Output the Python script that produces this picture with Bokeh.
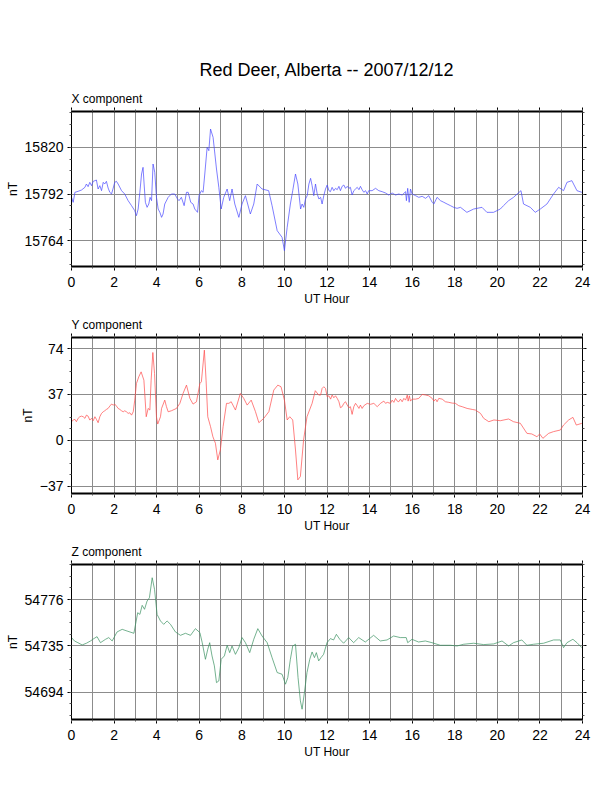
from bokeh.plotting import figure
from bokeh.models import LinearAxis, FixedTicker, Range1d, Title, CustomLabelingPolicy
from bokeh.layouts import column
from bokeh.embed import file_html
from bokeh.resources import INLINE

# ---------------- data ----------------
x_hours = [0.00, 0.08, 0.16, 0.31, 0.47, 0.63, 0.70, 0.78, 0.86, 0.94, 1.02, 1.10, 1.17, 1.25, 1.33, 1.41,
           1.49, 1.56, 1.64, 1.72, 1.80, 1.88, 1.96, 2.03, 2.11, 2.19, 2.35, 2.50, 2.66, 2.82, 2.97, 3.05,
           3.13, 3.21, 3.29, 3.36, 3.41, 3.47, 3.55, 3.63, 3.69, 3.76, 3.83, 3.91, 3.99, 4.07, 4.15, 4.23,
           4.30, 4.38, 4.54, 4.69, 4.85, 4.98, 5.05, 5.16, 5.29, 5.40, 5.48, 5.60, 5.71, 5.79, 5.92, 5.99,
           6.10, 6.18, 6.26,
           6.37, 6.45, 6.53, 6.65, 6.81, 6.92, 7.03, 7.15, 7.31, 7.43, 7.54, 7.67, 7.86, 8.01,
           8.17, 8.40, 8.56, 8.72, 8.95, 9.26, 9.42, 9.66, 9.89, 10.00, 10.13, 10.28, 10.39, 10.52, 10.63,
           10.76, 10.83, 10.91, 10.99, 11.07, 11.15, 11.23, 11.30, 11.38, 11.46, 11.54, 11.62, 11.70, 11.77,
           11.85, 11.93, 12.01, 12.09, 12.16, 12.24, 12.32, 12.40, 12.48, 12.56, 12.63, 12.71, 12.79, 12.87,
           12.95, 13.03, 13.10, 13.18, 13.26, 13.34, 13.42, 13.50, 13.57, 13.65, 13.73, 13.81, 13.89, 13.96,
           14.12, 14.28, 14.43, 14.59, 14.75, 14.90, 15.06, 15.22, 15.37, 15.53, 15.69, 15.73, 15.79, 15.86,
           15.92, 16.00, 16.16, 16.31, 16.47, 16.63, 16.78, 16.94, 17.02, 17.17, 17.33, 17.49, 17.64, 17.80,
           17.95, 18.11, 18.27,
           18.57, 18.89, 19.28, 19.51, 19.82, 20.14, 20.29, 20.53, 20.76, 21.11, 21.23, 21.55,
           21.78, 22.02, 22.33, 22.64, 22.88, 23.11, 23.27, 23.50, 23.74, 23.97]
x_values = [15790.0, 15787.0, 15793.0, 15793.6, 15794.4, 15796.0, 15798.0, 15796.4, 15799.0, 15797.0,
            15799.6, 15800.0, 15800.4, 15795.0, 15797.0, 15794.0, 15799.0, 15798.0, 15799.6, 15795.6,
            15793.0, 15792.0, 15795.6, 15799.0, 15799.6, 15798.0, 15794.0, 15792.0, 15788.0, 15785.0,
            15782.0, 15779.0, 15783.0, 15793.0, 15804.0, 15808.0, 15798.0, 15787.0, 15784.0, 15786.0,
            15790.0, 15788.0, 15810.0, 15805.0, 15790.0, 15783.0, 15781.0, 15778.0, 15780.0, 15786.0,
            15790.0, 15792.0, 15792.0, 15789.0, 15788.0, 15790.0, 15785.0, 15793.0, 15793.0, 15787.0,
            15786.0, 15783.0, 15781.0, 15791.0, 15794.0, 15793.0, 15804.0,
            15820.0, 15818.0, 15831.0, 15826.0, 15807.0, 15796.0, 15783.0, 15790.0, 15795.0, 15788.0,
            15795.0, 15786.0, 15778.0, 15786.0, 15791.0, 15780.0, 15786.0, 15798.0, 15795.0, 15794.0,
            15785.0, 15770.0, 15766.0, 15758.0, 15772.0, 15786.0, 15794.0, 15804.0, 15798.0,
            15783.0, 15786.0, 15784.0, 15789.0, 15791.0, 15798.0, 15801.4, 15797.0, 15791.0, 15798.0,
            15792.0, 15789.0, 15790.0, 15786.0, 15791.0, 15795.0, 15797.4, 15794.0, 15793.4, 15796.0,
            15794.0, 15795.4, 15794.6, 15796.6, 15794.0, 15796.6, 15797.4, 15795.4, 15796.6, 15795.4,
            15796.0, 15791.4, 15794.0, 15795.0, 15796.0, 15794.6, 15796.6, 15794.6, 15793.0, 15794.0,
            15792.0, 15794.0, 15794.0, 15795.4, 15794.0, 15793.4, 15792.6, 15791.4, 15792.6, 15791.4,
            15792.0, 15791.4, 15793.4, 15788.0, 15795.4, 15787.0, 15795.0, 15792.0, 15791.0, 15790.0,
            15790.6, 15789.4, 15791.0, 15787.0, 15786.0, 15790.0, 15788.0, 15787.0, 15786.0, 15785.0,
            15784.0, 15783.4, 15784.0,
            15781.0, 15783.0, 15784.0, 15781.0, 15781.0, 15783.0, 15785.0, 15788.0, 15790.0, 15794.0,
            15786.0, 15784.0, 15781.0, 15783.0, 15786.0, 15792.0, 15796.0, 15794.0, 15799.0, 15800.0,
            15794.0, 15793.0]

y_hours = [0.00, 0.08, 0.16, 0.23, 0.31, 0.39, 0.47, 0.55, 0.63, 0.70, 0.78, 0.86, 0.94, 1.02, 1.10,
           1.17, 1.25, 1.33, 1.41, 1.49, 1.56, 1.64, 1.72, 1.80, 1.88, 1.96, 2.03, 2.11, 2.19, 2.27,
           2.35, 2.43, 2.50, 2.58, 2.66, 2.74, 2.82, 2.90, 2.97, 3.05,
           3.16, 3.27, 3.40, 3.51, 3.60, 3.68, 3.74, 3.82, 3.90, 3.99, 4.05, 4.18,
           4.23, 4.38, 4.46, 4.54, 4.69, 4.93, 5.09, 5.24, 5.40, 5.56, 5.71, 5.87, 6.03,
           6.10, 6.24, 6.32, 6.40, 6.53, 6.64, 6.76, 6.87, 6.99, 7.12, 7.28, 7.39, 7.50, 7.70, 7.93,
           8.09, 8.25, 8.44, 8.64, 8.80, 9.03, 9.27, 9.50, 9.69, 9.84, 10.00, 10.13, 10.25, 10.39,
           10.52, 10.63, 10.75, 10.90, 11.06, 11.30, 11.45, 11.61,
           11.70, 11.77, 11.85, 11.93, 12.01, 12.09, 12.17, 12.24, 12.32, 12.40, 12.48, 12.56, 12.63,
           12.71, 12.79, 12.87, 12.95, 13.03, 13.10, 13.18, 13.26, 13.34, 13.42, 13.50, 13.57, 13.65,
           13.73, 13.89, 14.04, 14.20, 14.36, 14.51, 14.67, 14.75, 14.83, 14.98, 15.06, 15.14, 15.22,
           15.30, 15.37, 15.45, 15.53, 15.61, 15.69, 15.77, 15.81, 15.87, 15.92, 16.00, 16.16, 16.31,
           16.47, 16.63, 16.78, 16.94, 17.02, 17.10, 17.17, 17.25, 17.41, 17.56, 17.72, 17.88, 18.03,
           18.19, 18.35, 18.58, 18.82, 18.97, 19.21,
           19.36, 19.60, 19.84, 20.14, 20.53, 20.76, 21.08, 21.39, 21.62, 21.86, 21.99, 22.14, 22.41,
           22.64, 22.96, 23.11, 23.35, 23.55, 23.71, 23.97]
y_values = [15.0, 16.3, 16.9, 15.0, 17.7, 19.0, 19.5, 19.0, 17.7, 20.3, 19.5, 16.3, 17.7, 15.8, 19.0,
            16.9, 14.2, 19.0, 21.7, 23.0, 23.8, 24.9, 25.7, 27.6, 29.2, 28.4, 29.2, 27.6, 25.7, 24.9,
            23.8, 23.0, 23.8, 23.0, 21.7, 22.2, 20.3, 23.0, 32.4, 45.8,
            51.2, 55.2, 48.5, 19.0, 25.7, 24.4, 48.5, 70.8, 53.9, 19.0, 13.1, 19.0,
            25.7, 32.4, 27.1, 23.0, 23.8, 25.7, 29.8, 37.8, 44.5, 33.8, 29.2, 31.1, 45.8,
            47.2, 72.7, 48.5, 19.0, 11.0, 2.9, -2.4, -15.8, -7.8, 11.0, 29.8, 29.8, 31.1, 24.4, 37.8,
            33.8, 28.4, 32.4, 23.1, 14.2, 17.7, 23.1, 40.5, 44.5, 43.2, 32.4, 16.4, 19.0, 16.4,
            -7.8, -31.9, -29.2, 0.3, 19.0, 29.8, 40.0, 36.5,
            36.5, 41.8, 43.2, 41.8, 35.1, 35.9, 33.2, 36.5, 34.3, 35.9, 33.8, 31.1, 26.3,
            27.1, 29.8, 31.1, 28.4, 26.3, 27.1, 20.9, 27.1, 29.8, 27.9, 25.7, 28.4, 25.7,
            27.9, 29.8, 29.0, 29.8, 27.1, 29.8, 31.6, 29.8, 30.6, 29.8, 32.4, 30.6, 33.8,
            31.6, 31.1, 33.2, 31.1, 33.8, 32.4, 36.5, 31.6, 35.9, 31.6, 33.2, 33.2, 33.8,
            37.0, 36.5, 35.9, 33.8, 31.6, 33.2, 31.1, 33.8, 33.2, 31.1, 30.6, 30.0, 29.8,
            27.9, 27.1, 25.7, 24.9, 24.4, 21.7,
            17.7, 15.0, 16.4, 15.8, 17.2, 15.0, 13.7, 5.6, 5.1, 2.9, 5.1, 1.6, 5.6,
            7.0, 8.3, 12.3, 16.4, 18.5, 12.3, 13.7]

z_hours = [0.00, 0.14, 0.30, 0.50, 0.70, 0.89, 1.05, 1.20, 1.36, 1.60, 1.75, 1.91, 2.14, 2.38, 2.61,
           2.93, 3.11, 3.21, 3.32, 3.43, 3.55, 3.66, 3.79, 3.90, 4.02, 4.18, 4.33, 4.49, 4.65, 4.88,
           5.12, 5.35, 5.59, 5.82, 6.03, 6.14, 6.29, 6.40, 6.49, 6.60, 6.71, 6.81, 6.92, 7.03, 7.18,
           7.31, 7.43, 7.54, 7.70, 7.86, 8.01, 8.17, 8.37, 8.56, 8.75, 8.95, 9.19, 9.42, 9.66, 9.89,
           10.05, 10.16, 10.28, 10.39, 10.52, 10.64, 10.75, 10.83, 10.94, 11.06, 11.19, 11.30, 11.41,
           11.50, 11.61, 11.72, 11.84, 12.00, 12.16, 12.31, 12.44, 12.60, 12.78, 13.02, 13.25, 13.49,
           13.80, 14.19, 14.50, 14.82, 15.13, 15.44, 15.72, 15.79, 15.99, 16.30, 16.62, 16.93, 17.32,
           17.79, 18.11, 18.42, 18.89, 19.36, 19.83, 20.22, 20.53, 20.76, 21.15, 21.39, 21.70, 22.17,
           22.64, 22.96, 23.11, 23.27, 23.55, 23.74, 23.97]
z_values = [54742.4, 54739.4, 54737.9, 54735.9, 54737.4, 54739.4, 54741.5, 54743.2, 54737.9, 54740.9,
            54742.4, 54739.4, 54747.4, 54749.7, 54748.2, 54746.2, 54764.4, 54762.9, 54770.9, 54767.4,
            54774.7, 54777.6, 54795.3, 54785.0, 54762.9, 54757.1, 54754.1, 54757.1, 54754.1, 54747.4,
            54744.4, 54746.2, 54744.4, 54750.3, 54746.8, 54737.9, 54723.2, 54732.1, 54737.9, 54726.2,
            54717.4, 54702.6, 54704.1, 54723.2, 54726.2, 54735.6, 54729.1, 54735.0, 54727.6, 54733.5,
            54742.4, 54737.9, 54729.1, 54740.9, 54750.3, 54743.8, 54737.9, 54724.7, 54711.5, 54710.0,
            54701.2, 54707.1, 54723.2, 54735.0, 54736.5, 54707.1, 54686.5, 54679.1, 54693.8, 54711.5,
            54723.2, 54729.7, 54724.7, 54729.1, 54721.8, 54724.7, 54727.6, 54737.9, 54741.5, 54740.3,
            54745.3, 54740.9, 54737.4, 54742.4, 54737.9, 54742.4, 54738.5, 54744.4, 54739.4, 54740.3,
            54743.8, 54742.4, 54742.4, 54737.9, 54740.9, 54738.5, 54739.4, 54737.9, 54735.6, 54735.6,
            54735.0, 54736.5, 54737.4, 54736.2, 54736.8, 54739.4, 54735.0, 54737.9, 54740.3, 54735.6,
            54736.5, 54737.4, 54740.3, 54740.3, 54733.5, 54737.9, 54740.9, 54737.9, 54733.5]

hour_ticks = [0, 2, 4, 6, 8, 10, 12, 14, 16, 18, 20, 22, 24]
hour_minor = list(range(25))

x_major = [15764, 15792, 15820]
x_minor = [15750 + 7 * k for k in range(14)]
y_major = [-37, 0, 37, 74]
y_minor = [-37 + 9.25 * k for k in range(14)]
z_major = [54694, 54735, 54776]
z_minor = [54673.5 + 10.25 * k for k in range(14)]

main_title = "Red Deer, Alberta -- 2007/12/12"
FONT = "Liberation Sans"


def style_axis(ax, labels=True, line_width=1):
    ax.axis_line_color = "black"
    ax.axis_line_width = line_width
    ax.major_tick_in = 0
    ax.major_tick_out = 4
    ax.minor_tick_in = 0
    ax.minor_tick_out = 2
    ax.major_tick_line_color = "black"
    ax.minor_tick_line_color = "#555555"
    ax.major_label_text_font = FONT
    ax.major_label_text_color = "black"
    if labels:
        ax.major_label_text_font_size = "14px"
        ax.major_label_standoff = 5
    else:
        # tick marks only: no tick labels are drawn on this side
        ax.major_label_policy = CustomLabelingPolicy(code="return []")
        ax.major_label_text_font_size = "1px"
        ax.major_label_text_alpha = 0
        ax.major_label_standoff = 0
    ax.axis_label_text_font = FONT
    ax.axis_label_text_font_size = "12px"
    ax.axis_label_text_font_style = "normal"
    ax.axis_label_text_color = "black"
    ax.axis_label_standoff = 2


def make_panel(name, hours, vals, color, yr, major, minor, height, top, bottom, title=None):
    p = figure(width=612, height=height, output_backend="svg", toolbar_location=None,
               x_range=Range1d(0, 24), y_range=Range1d(*yr),
               x_axis_label="UT Hour", y_axis_label="nT",
               min_border_left=71, min_border_right=30,
               min_border_top=top, min_border_bottom=bottom)
    p.outline_line_color = "black"
    p.outline_line_width = 1
    p.background_fill_color = "white"
    p.border_fill_color = "white"

    bx = p.xaxis[0]
    bx.ticker = FixedTicker(ticks=hour_ticks, minor_ticks=hour_minor)
    style_axis(bx, labels=True, line_width=2)
    bx.major_label_standoff = 6
    ly = p.yaxis[0]
    ly.ticker = FixedTicker(ticks=major, minor_ticks=minor)
    style_axis(ly, labels=True)
    ly.major_label_standoff = 4

    tx = LinearAxis(ticker=FixedTicker(ticks=hour_ticks, minor_ticks=hour_minor))
    style_axis(tx, labels=False, line_width=2)
    p.add_layout(tx, "above")
    ry = LinearAxis(ticker=FixedTicker(ticks=major, minor_ticks=minor))
    style_axis(ry, labels=False)
    p.add_layout(ry, "right")

    p.xgrid.ticker = FixedTicker(ticks=hour_minor)
    p.ygrid.ticker = FixedTicker(ticks=major)
    for g in (p.xgrid, p.ygrid):
        g.grid_line_color = "#8c8c8c"
        g.grid_line_width = 1

    p.line(hours, vals, line_color=color, line_width=0.7)

    sub = Title(text=name, align="left", text_font=FONT, text_font_size="12px",
                text_font_style="normal", text_color="black", standoff=3)
    p.add_layout(sub, "above")
    if title:
        mt = Title(text=title, align="center", text_font=FONT, text_font_size="18px",
                   text_font_style="normal", text_color="black", standoff=18)
        p.add_layout(mt, "above")
    return p


p1 = make_panel("X component", x_hours, x_values, "#4848ff", (15748.5, 15841.5),
                x_major, x_minor, 312, 111, 46, title=main_title)
p2 = make_panel("Y component", y_hours, y_values, "#ff4a4a", (-42.9, 82.9),
                y_major, y_minor, 227, 25, 46)
p3 = make_panel("Z component", z_hours, z_values, "#3a9060", (54670, 54807),
                z_major, z_minor, 230, 25, 50)

layout = column(p1, p2, p3)
open("out.html", "w").write(file_html(layout, INLINE))
